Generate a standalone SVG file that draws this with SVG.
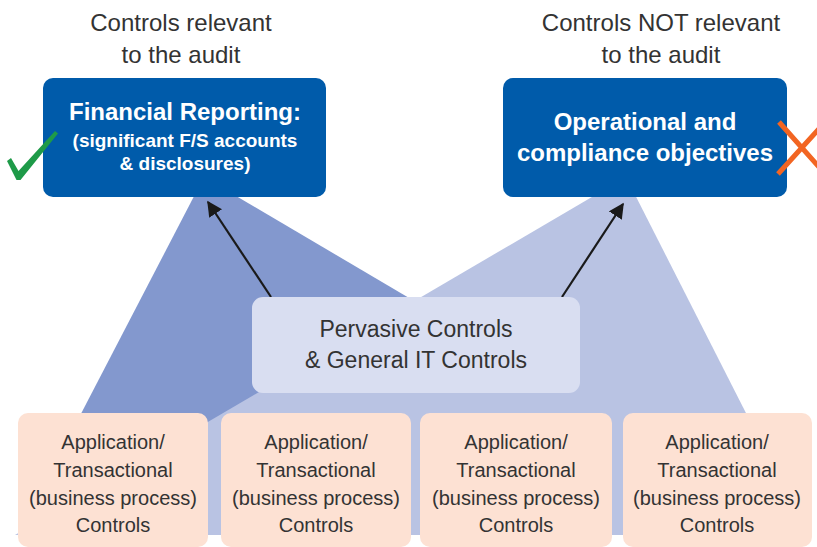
<svg xmlns="http://www.w3.org/2000/svg" width="817" height="547" viewBox="0 0 817 547">
<style>
.hdr{font-family:"Liberation Sans",Arial,sans-serif;font-size:24px;fill:#333333;text-anchor:middle}
.blue{fill:#005BAA}
.wt{font-family:"Liberation Sans",Arial,sans-serif;font-weight:bold;fill:#ffffff;text-anchor:middle}
.pink{fill:#FDE1D3}
.pt{font-family:"Liberation Sans",Arial,sans-serif;font-size:20px;fill:#333333;text-anchor:middle}
.pv{font-family:"Liberation Sans",Arial,sans-serif;font-size:23px;fill:#333333;text-anchor:middle}
.conn{stroke:#1a1a1a;stroke-width:2.2;fill:none}
</style>
<defs>
<marker id="ah" viewBox="0 0 10 10" refX="9" refY="5" markerWidth="7" markerHeight="7" markerUnits="strokeWidth" orient="auto">
<path d="M0,0 L10,5 L0,10 z" fill="#1a1a1a"/>
</marker>
</defs>
<rect width="817" height="547" fill="#ffffff"/>
<g id="backdrop">
<polygon points="204,177 18,535 560,535 560,387" fill="#8398CE"/>
<polygon points="626,177 15,535 808,535" fill="#B9C3E3"/>
</g>
<g id="label-relevant">
<text class="hdr" x="181" y="31">Controls relevant</text>
<text class="hdr" x="181" y="63">to the audit</text>
</g>
<g id="label-not-relevant">
<text class="hdr" x="661" y="31">Controls NOT relevant</text>
<text class="hdr" x="661" y="63">to the audit</text>
</g>
<g id="financial-reporting">
<rect class="blue" x="43" y="78" width="283" height="119" rx="10"/>
<text class="wt" x="185" y="120" font-size="24">Financial Reporting:</text>
<text class="wt" x="185" y="147" font-size="19">(significant F/S accounts</text>
<text class="wt" x="185" y="170" font-size="19">&amp; disclosures)</text>
</g>
<g id="operational">
<rect class="blue" x="503" y="78" width="284" height="119" rx="10"/>
<text class="wt" x="645" y="130" font-size="24">Operational and</text>
<text class="wt" x="645" y="161" font-size="24">compliance objectives</text>
</g>
<g id="checkmark">
<polygon points="7,161 11,158 18.5,171 55,131 58,133.5 20.5,180 16.5,180" fill="#1E9A48"/>
</g>
<g id="xmark">
<path d="M779,122 L826,175 M778,174 L826,121" stroke="#F26522" stroke-width="5" fill="none"/>
</g>
<g id="connectors">
<line class="conn" x1="271" y1="297" x2="208" y2="202" marker-end="url(#ah)"/>
<line class="conn" x1="562" y1="297" x2="623" y2="204" marker-end="url(#ah)"/>
</g>
<g id="pervasive">
<rect x="252" y="297" width="328" height="96" rx="11" fill="#D9DEF1"/>
<text class="pv" x="416" y="337">Pervasive Controls</text>
<text class="pv" x="416" y="368">&amp; General IT Controls</text>
</g>
<g id="app1">
<rect class="pink" x="18" y="413" width="190" height="134" rx="10"/>
<text class="pt" x="113" y="449">Application/</text>
<text class="pt" x="113" y="477">Transactional</text>
<text class="pt" x="113" y="505">(business process)</text>
<text class="pt" x="113" y="532">Controls</text>
</g>
<g id="app2">
<rect class="pink" x="221" y="413" width="190" height="134" rx="10"/>
<text class="pt" x="316" y="449">Application/</text>
<text class="pt" x="316" y="477">Transactional</text>
<text class="pt" x="316" y="505">(business process)</text>
<text class="pt" x="316" y="532">Controls</text>
</g>
<g id="app3">
<rect class="pink" x="420" y="413" width="192" height="134" rx="10"/>
<text class="pt" x="516" y="449">Application/</text>
<text class="pt" x="516" y="477">Transactional</text>
<text class="pt" x="516" y="505">(business process)</text>
<text class="pt" x="516" y="532">Controls</text>
</g>
<g id="app4">
<rect class="pink" x="623" y="413" width="189" height="134" rx="10"/>
<text class="pt" x="717" y="449">Application/</text>
<text class="pt" x="717" y="477">Transactional</text>
<text class="pt" x="717" y="505">(business process)</text>
<text class="pt" x="717" y="532">Controls</text>
</g>
</svg>
